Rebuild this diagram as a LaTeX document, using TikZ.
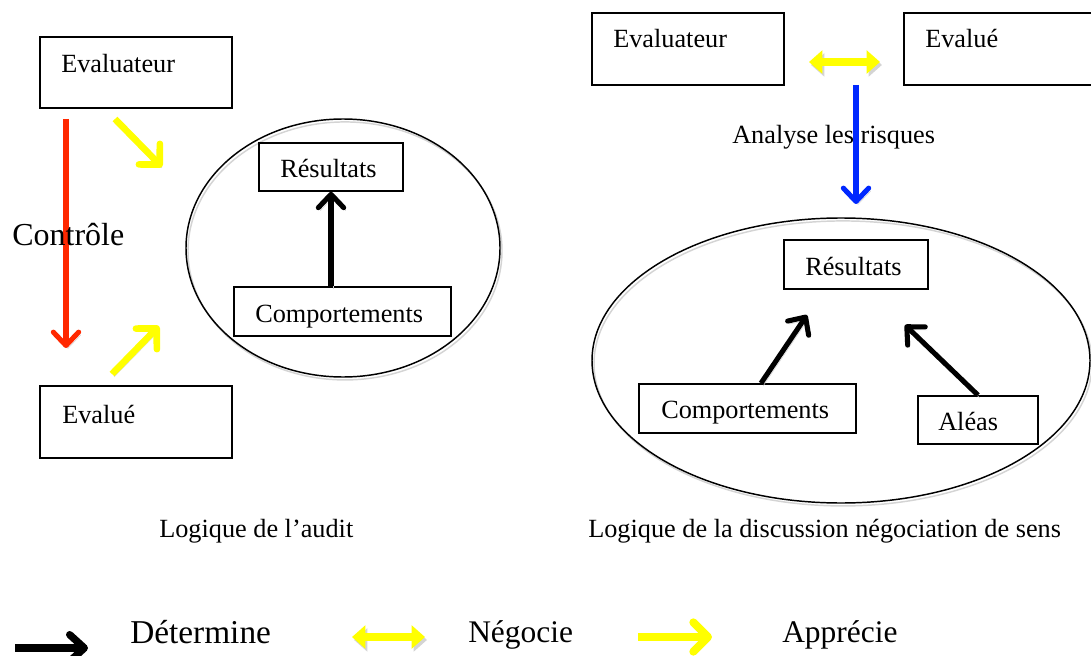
\documentclass[tikz,border=0pt]{standalone}
\usepackage{fontspec}
\setmainfont{Liberation Serif}
\usetikzlibrary{arrows.meta,calc,shapes.geometric}
\definecolor{cred}{RGB}{255,40,0}
\definecolor{cblue}{RGB}{0,40,255}
\definecolor{cyel}{RGB}{255,255,0}
\begin{document}
\begin{tikzpicture}[x=0.75pt,y=-0.75pt,
  box/.style={draw=black, line width=1.2pt, inner sep=0pt},
  oval/.style={ellipse, draw=black, line width=1.1pt, inner sep=0pt, shadow},
  txt/.style={anchor=base west, inner sep=0pt, font=\fontsize{19.7}{23}\selectfont},
  legtxt/.style={anchor=base west, inner sep=0pt, font=\fontsize{23.6}{28}\selectfont},
  shadow/.style={preaction={draw=black!17, transform canvas={shift={(1.5pt,-2.2pt)}}}},
  barb/.style={-{Straight Barb[length=10pt,width=19pt,line cap=round,line join=round]}},
  bigbarb/.style={-{Straight Barb[length=11pt,width=22pt,line cap=round,line join=round]}},
  conn/.style={line width=3.8pt, shadow, barb},
  yconn/.style={line width=5pt, draw=cyel, shadow, bigbarb},
  dbl/.style={line width=6pt, draw=cyel, shadow, {Triangle[length=10pt,width=17pt]}-{Triangle[length=10pt,width=17pt]}},
]
\useasboundingbox (0,0) rectangle (1091,656);

% ---------- left: logique de l'audit ----------
\node[box, minimum width=144pt, minimum height=53.25pt] (evL) at (136,72.5) {};
\node[box, minimum width=144pt, minimum height=54pt] (edL) at (136,422) {};
\node[txt] (tevL) at (61,73) {Evaluateur};
\node[txt] (tedL) at (62,423) {Evalué};

\node[oval, minimum width=235.5pt, minimum height=193.5pt] (eL) at (343,248) {};
\node[box, fill=white, minimum width=108pt, minimum height=36pt] (rL) at (331,167) {};
\node[box, fill=white, minimum width=162.75pt, minimum height=36.75pt] (cL) at (342.5,311.5) {};
\node[txt] (trL) at (280,177) {Résultats};
\node[txt] (tcL) at (255,322) {Comportements};

\coordinate (r1) at (66,119);
\coordinate (r2) at (66,348);
\draw[conn, draw=cred] (r1) -- (r2);
\node[anchor=base west, inner sep=0pt, font=\fontsize{24}{28}\selectfont] (ctl) at (12,245) {Contrôle};

\coordinate (y1a) at (115,119);
\coordinate (y1b) at (162,167);
\coordinate (y2a) at (112,374);
\coordinate (y2b) at (159,326);
\draw[yconn] (y1a) -- (y1b);
\draw[yconn] (y2a) -- (y2b);

\draw[conn] (rL.south |- cL.north) -- (rL.south);

\node[txt] (capL) at (159,537) {Logique de l’audit};

% ---------- right: discussion ----------
\node[box, minimum width=144pt, minimum height=54pt] (evR) at (688,49) {};
\node[box, minimum width=141.75pt, minimum height=54pt] (edR) at (998.5,49) {};
\node[txt] (tevR) at (613,48) {Evaluateur};
\node[txt] (tedR) at (925,48) {Evalué};

\coordinate (d1) at (809,62);
\coordinate (d2) at (880,62);
\draw[dbl] (d1) -- (d2);

\node[txt] (ana) at (732,144) {Analyse les risques};
\coordinate (b1) at (856,85);
\coordinate (b2) at (856,204);
\draw[conn, draw=cblue] (b1) -- (b2);

\node[oval, minimum width=373.5pt, minimum height=213.75pt] (eR) at (841,360.5) {};
\node[box, fill=white, minimum width=108pt, minimum height=36.75pt] (rR) at (856,264.5) {};
\node[box, fill=white, minimum width=162.75pt, minimum height=36.75pt] (cR) at (747.5,408.5) {};
\node[box, fill=white, minimum width=90pt, minimum height=36pt] (aR) at (978,420) {};
\node[txt] (trR) at (805,275) {Résultats};
\node[txt] (tcR) at (661,418) {Comportements};
\node[txt] (taR) at (938,430) {Aléas};

\coordinate (k1) at (807,315);
\coordinate (k2) at (905,325);
\draw[conn] ($(cR.north)+(13.5,0)$) -- (k1);
\draw[conn] (aR.north) -- (k2);

\node[txt] (capR) at (588,537) {Logique de la discussion négociation de sens};

% ---------- legend ----------
\coordinate (l1a) at (15,648);
\coordinate (l1b) at (88,648);
\draw[line width=5.5pt, shadow, -{Straight Barb[length=11pt,width=20pt,line cap=round,line join=round]}] (l1a) -- (l1b);
\node[legtxt, font=\fontsize{25}{30}\selectfont] (lg1) at (130,643) {Détermine};

\coordinate (l2a) at (352,637);
\coordinate (l2b) at (425,637);
\draw[dbl] (l2a) -- (l2b);
\node[legtxt] (lg2) at (468,642) {Négocie};

\coordinate (l3a) at (638,637);
\coordinate (l3b) at (712,637);
\draw[yconn, line width=6pt] (l3a) -- (l3b);
\node[legtxt] (lg3) at (782,642) {Apprécie};
\end{tikzpicture}
\end{document}
